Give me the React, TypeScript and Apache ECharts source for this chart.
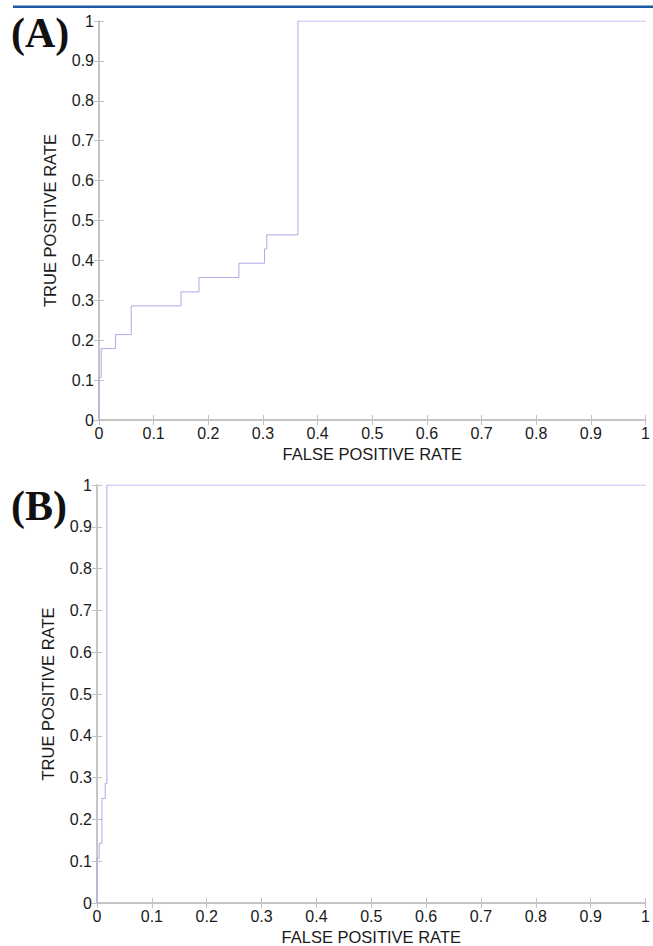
import React, { useEffect, useRef } from "react";
import * as echarts from "echarts";

// Panel A ROC corner points (step 'end')
const fprA = [0, 0, 0.004, 0.03, 0.059, 0.15, 0.183, 0.256, 0.303, 0.307, 0.364, 1];
const tprA = [0, 0.107, 0.179, 0.214, 0.286, 0.321, 0.357, 0.393, 0.429, 0.464, 1, 1];
// Panel B ROC corner points
const fprB = [0, 0, 0.004, 0.009, 0.015, 0.018, 1];
const tprB = [0, 0.107, 0.143, 0.25, 0.286, 1, 1];

const xName = "FALSE POSITIVE RATE";
const yName = "TRUE POSITIVE RATE";
const panelLabels = ["(A)", "(B)"];

const FONT = "Liberation Sans";
const AXIS_COLOR = "#c2c2c2";
const LINE_COLOR = "#aaaaea";
const TEXT_COLOR = "#1a1a1a";

function zip(xs: number[], ys: number[]) {
  return xs.map((x, i) => [x, ys[i]]);
}

export default function App() {
  const ref = useRef<HTMLDivElement>(null);
  useEffect(() => {
    document.body.style.margin = "0";
    const chart = echarts.init(ref.current!, undefined, { renderer: "svg" });
    const grids = [
      { left: 99, top: 21, width: 547, height: 399 },
      { left: 97, top: 485, width: 555, height: 419 },
    ];
    const xAxes: any[] = [];
    const yAxes: any[] = [];
    grids.forEach((_, gi) => {
      const common = {
        gridIndex: gi,
        type: "value",
        min: 0,
        max: 1,
        interval: 0.1,
        splitLine: { show: false },
        axisLine: { show: true, lineStyle: { color: AXIS_COLOR, width: 1.5 } },
        axisTick: { show: true, inside: true, length: 5, lineStyle: { color: AXIS_COLOR, width: 1 } },
      };
      xAxes.push({
        ...common,
        position: "bottom",
        name: xName,
        nameLocation: "middle",
        nameGap: 25,
        nameTextStyle: { fontFamily: FONT, fontSize: 16.5, color: TEXT_COLOR },
        axisLabel: { fontFamily: FONT, fontSize: 16, color: TEXT_COLOR, margin: 5 },
      });
      xAxes.push({ ...common, position: "top", axisLabel: { show: false } });
      yAxes.push({
        ...common,
        position: "left",
        name: yName,
        nameLocation: "middle",
        nameGap: 41,
        nameTextStyle: { fontFamily: FONT, fontSize: 16.5, color: TEXT_COLOR },
        axisLabel: { fontFamily: FONT, fontSize: 16, color: TEXT_COLOR, margin: 5 },
      });
      yAxes.push({ ...common, position: "right", axisLabel: { show: false } });
    });
    chart.setOption({
      animation: false,
      backgroundColor: "#ffffff",
      grid: grids,
      xAxis: xAxes,
      yAxis: yAxes,
      series: [
        {
          type: "line",
          xAxisIndex: 0,
          yAxisIndex: 0,
          data: zip(fprA, tprA),
          step: "end",
          showSymbol: false,
          lineStyle: { color: LINE_COLOR, width: 1 },
        },
        {
          type: "line",
          xAxisIndex: 2,
          yAxisIndex: 2,
          data: zip(fprB, tprB),
          step: "end",
          showSymbol: false,
          lineStyle: { color: LINE_COLOR, width: 1 },
        },
      ],
      graphic: [
        { type: "rect", shape: { x: 13, y: 5.5, width: 640, height: 2.5 }, style: { fill: "#1d58a5" } },
        {
          type: "text",
          x: 11,
          y: 54,
          style: {
            text: panelLabels[0],
            fontFamily: "Liberation Serif",
            fontWeight: "bold",
            fontSize: 42,
            fill: "#111",
            verticalAlign: "bottom",
          },
        },
        {
          type: "text",
          x: 11,
          y: 527,
          style: {
            text: panelLabels[1],
            fontFamily: "Liberation Serif",
            fontWeight: "bold",
            fontSize: 42,
            fill: "#111",
            verticalAlign: "bottom",
          },
        },
      ],
    });
    return () => chart.dispose();
  }, []);
  return <div ref={ref} style={{ width: 653, height: 946 }} />;
}
